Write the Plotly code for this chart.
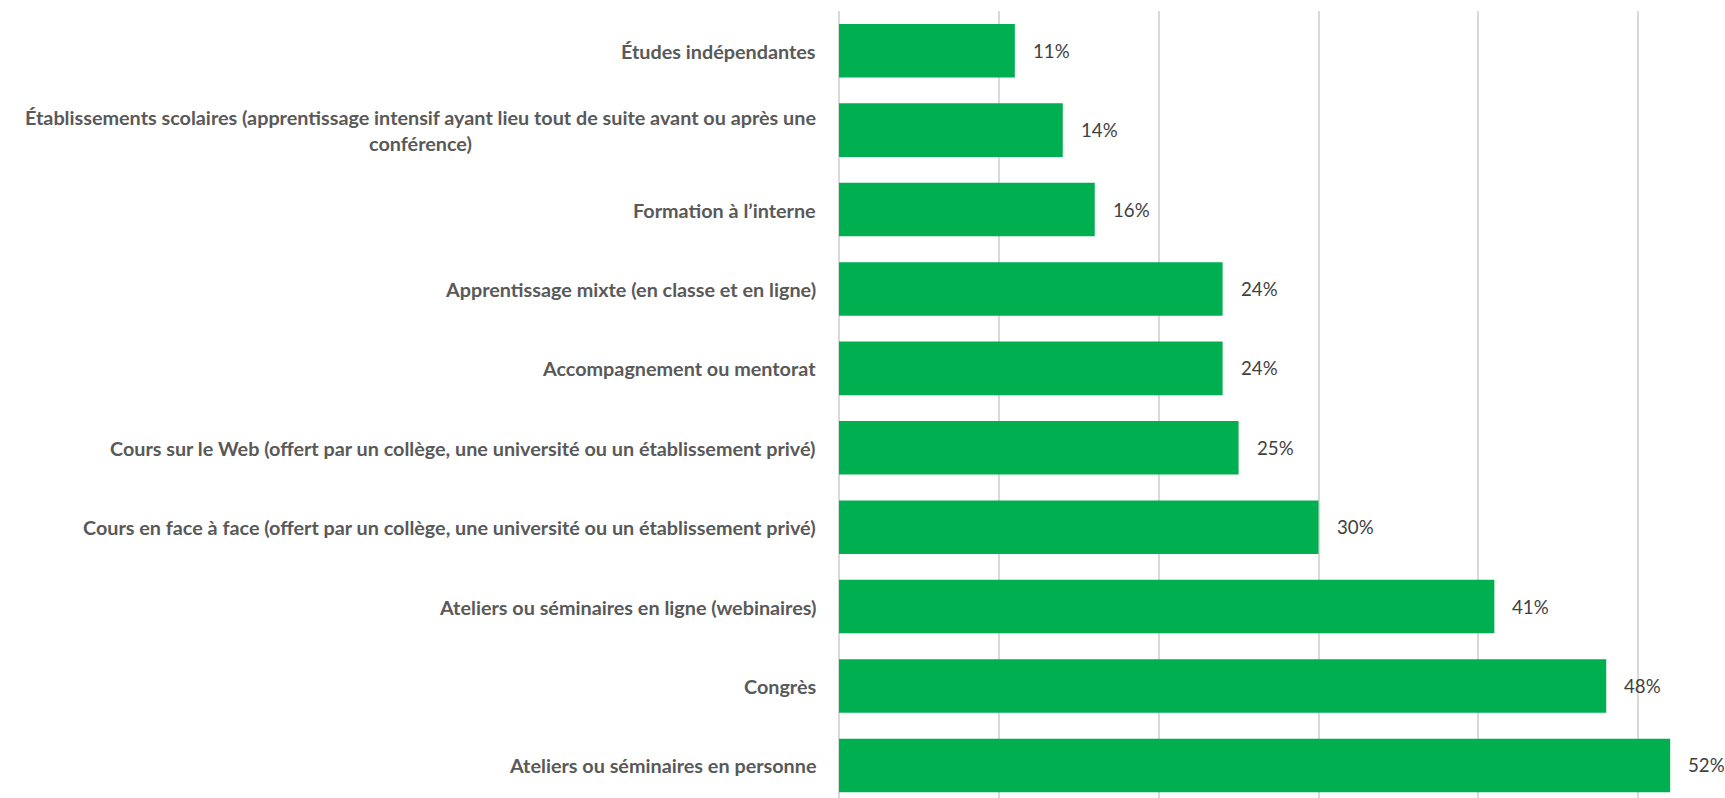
import plotly.graph_objects as go

categories = [
    "Études indépendantes",
    "Établissements scolaires (apprentissage intensif ayant lieu tout de suite avant ou après une<br>conférence)",
    "Formation à l’interne",
    "Apprentissage mixte (en classe et en ligne)",
    "Accompagnement ou mentorat",
    "Cours sur le Web (offert par un collège, une université ou un établissement privé)",
    "Cours en face à face (offert par un collège, une université ou un établissement privé)",
    "Ateliers ou séminaires en ligne (webinaires)",
    "Congrès",
    "Ateliers ou séminaires en personne",
]
values = [11, 14, 16, 24, 24, 25, 30, 41, 48, 52]
value_labels = ["11%", "14%", "16%", "24%", "24%", "25%", "30%", "41%", "48%", "52%"]

FONT = "Lato, Roboto, Arial"
BAR = "#00b050"
GRID = "#d9d9d9"

fig = go.Figure()
fig.add_trace(go.Bar(
    x=values, y=list(range(len(categories))), orientation="h",
    marker=dict(color=BAR, line=dict(width=0)), width=0.674,
    hoverinfo="skip",
))

annotations = []
for i, (c, v, t) in enumerate(zip(categories, values, value_labels)):
    annotations.append(dict(
        x=0, y=i, xref="x", yref="y", text=f"<b>{c}</b>", showarrow=False,
        xanchor="right", yanchor="middle", align="center", xshift=-21,
        font=dict(family=FONT, size=19.8, color="#595959"),
    ))
    annotations.append(dict(
        x=v, y=i, xref="x", yref="y", text=t, showarrow=False,
        xanchor="left", yanchor="middle", xshift=16,
        font=dict(family=FONT, size=18.67, color="#404040"),
    ))

fig.update_layout(
    width=1725, height=798,
    margin=dict(l=839, r=0, t=11, b=0, pad=0),
    paper_bgcolor="white", plot_bgcolor="white",
    showlegend=False,
    annotations=annotations,
)
fig.update_xaxes(
    range=[0, 55.43], dtick=10, showgrid=True, gridcolor=GRID, gridwidth=2,
    showticklabels=False, zeroline=True, zerolinecolor=GRID, zerolinewidth=2,
    showline=False, ticks="",
)
fig.update_yaxes(
    range=[9.41, -0.5], showgrid=False, showticklabels=False, zeroline=False,
    showline=False, ticks="",
)

fig.write_html("out.html", config={"displayModeBar": False},
               post_script="document.body.style.margin='0';")
